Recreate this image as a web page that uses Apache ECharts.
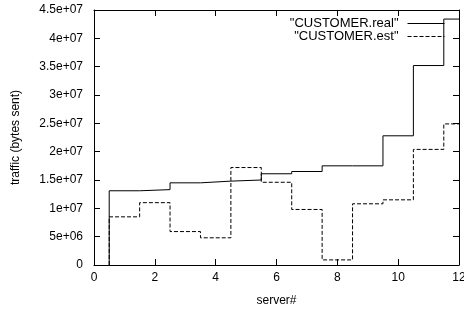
<!DOCTYPE html>
<html><head><meta charset="utf-8">
<script src="https://cdn.jsdelivr.net/npm/echarts@6/dist/echarts.min.js"></script>
<style>html,body{margin:0;padding:0;background:#fff}#c{width:464px;height:309px}</style>
</head><body><div id="c"></div>
<script>
var servers = [1,2,3,4,5,6,7,8,9,10,11,12];
var realTraffic = [13.1e6,13.3e6,14.5e6,14.8e6,15.0e6,16.1e6,16.5e6,17.5e6,17.5e6,22.8e6,35.2e6,43.4e6];
var estTraffic = [8.5e6,11.0e6,5.9e6,4.8e6,17.2e6,14.6e6,9.8e6,0.9e6,10.8e6,11.5e6,20.4e6,24.9e6];
var xTicks = [0,2,4,6,8,10,12];
var yTickValues = [0,5e6,1e7,1.5e7,2e7,2.5e7,3e7,3.5e7,4e7,4.5e7];
var yTicks = ['0','5e+06','1e+07','1.5e+07','2e+07','2.5e+07','3e+07','3.5e+07','4e+07','4.5e+07'];

var W = 464, H = 309;
var G = {left:94, right:5, top:10, bottom:44};
var XMIN = 0, XMAX = 12, YMIN = 0, YMAX = 4.5e7;
var TL = 6;

function histeps(vals){
  var d = [[servers[0]-0.5, 0]];
  servers.forEach(function(s,i){ d.push([s+0.5, vals[i]]); });
  return d;
}
// tick length converted into axis units from the grid size
var plotW = W - G.left - G.right, plotH = H - G.top - G.bottom;
var dx = TL / plotW * (XMAX - XMIN), dy = TL / plotH * (YMAX - YMIN);
var tickSegs = [];
xTicks.forEach(function(v){
  tickSegs.push({coords:[[v, YMIN],[v, YMIN+dy]]});
  tickSegs.push({coords:[[v, YMAX],[v, YMAX-dy]]});
});
yTickValues.forEach(function(v){
  tickSegs.push({coords:[[XMIN, v],[XMIN+dx, v]]});
  tickSegs.push({coords:[[XMAX, v],[XMAX-dx, v]]});
});

var font = 'Liberation Sans, Arial, sans-serif';
var chart = echarts.init(document.getElementById('c'), null, {renderer:'canvas'});
function line(){ return {show:true, onZero:false, lineStyle:{color:'#000', width:1}}; }
chart.setOption({
  animation:false,
  textStyle:{fontFamily:font},
  grid:{left:G.left, right:G.right, top:G.top, bottom:G.bottom, show:false, containLabel:false, outerBoundsMode:'none'},
  legend:{
    orient:'vertical', right:19, top:17, align:'right', padding:0,
    itemWidth:37, itemHeight:12, itemGap:0,
    itemStyle:{opacity:0},
    lineStyle:{width:1},
    textStyle:{fontFamily:font, fontSize:13, lineHeight:12, color:'#000', padding:[0,4,0,0]},
    data:['"CUSTOMER.real"','"CUSTOMER.est"']
  },
  xAxis:[{
    type:'value', min:XMIN, max:XMAX, interval:2, position:'bottom',
    name:'server#', nameLocation:'middle', nameGap:30,
    nameTextStyle:{fontFamily:font, fontSize:12, color:'#000'},
    axisLine:line(), axisTick:{show:false}, splitLine:{show:false},
    axisLabel:{fontFamily:font, fontSize:12, color:'#000', margin:7,
      formatter:function(v){ var i = xTicks.indexOf(v); return i>=0 ? String(xTicks[i]) : ''; }}
  },{
    type:'value', min:XMIN, max:XMAX, interval:2, position:'top',
    axisLine:line(), axisTick:{show:false}, splitLine:{show:false}, axisLabel:{show:false}
  }],
  yAxis:[{
    type:'value', min:YMIN, max:YMAX, interval:5e6, position:'left',
    name:'traffic (bytes sent)', nameLocation:'middle', nameGap:72,
    nameTextStyle:{fontFamily:font, fontSize:12, color:'#000'},
    axisLine:line(), axisTick:{show:false}, splitLine:{show:false},
    axisLabel:{fontFamily:font, fontSize:12, color:'#000', margin:11,
      formatter:function(v){ return yTicks[Math.round(v/5e6)]; }}
  },{
    type:'value', min:YMIN, max:YMAX, interval:5e6, position:'right',
    axisLine:line(), axisTick:{show:false}, splitLine:{show:false}, axisLabel:{show:false}
  }],
  series:[{
    name:'"CUSTOMER.real"', type:'line', step:'start', showSymbol:false, symbol:'none',
    data:histeps(realTraffic), lineStyle:{color:'#000', width:1}, itemStyle:{color:'#000'}, clip:true
  },{
    name:'"CUSTOMER.est"', type:'line', step:'start', showSymbol:false, symbol:'none',
    data:histeps(estTraffic), lineStyle:{color:'#000', width:1, type:[4,2]}, itemStyle:{color:'#000'}, clip:true
  },{
    name:'ticks', type:'lines', coordinateSystem:'cartesian2d', silent:true,
    polyline:false, symbol:'none', effect:{show:false},
    lineStyle:{color:'#000', width:1, opacity:1, curveness:0},
    data:tickSegs
  }]
});
</script></body></html>
